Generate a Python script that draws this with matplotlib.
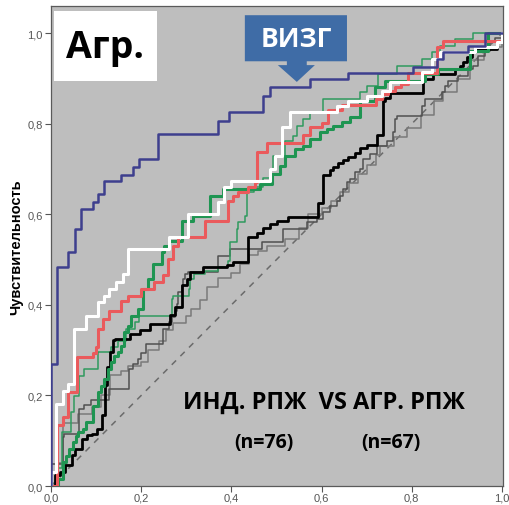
import matplotlib
matplotlib.use('Agg')
import matplotlib.pyplot as plt
from matplotlib.patches import Polygon, Rectangle
from matplotlib.ticker import FuncFormatter

# ROC-кривые: x - точка ступеньки (1-специфичность), y - чувствительность после ступеньки
vizg_x = [0, 0, 0.013, 0.038, 0.053, 0.067, 0.093, 0.104, 0.118, 0.155, 0.182, 0.195, 0.237, 0.370, 0.395,
          0.470, 0.486, 0.574, 0.659, 0.803, 0.856, 0.869, 0.925, 0.962, 1.0]
vizg_y = [0, 0.269, 0.483, 0.517, 0.567, 0.611, 0.627, 0.645, 0.673, 0.687, 0.704, 0.722, 0.777, 0.806, 0.826,
          0.861, 0.881, 0.898, 0.912, 0.925, 0.943, 0.958, 0.971, 1.0, 1.0]

white_x = [0, 0, 0.011, 0.027, 0.038, 0.051, 0.078, 0.104, 0.118, 0.129, 0.144, 0.160, 0.171, 0.262, 0.304,
           0.370, 0.384, 0.399, 0.486, 0.497, 0.512, 0.530, 0.634, 0.659, 0.701, 0.734, 0.752, 0.823, 0.845,
           0.863, 0.940, 0.989, 1.0]
white_y = [0, 0.031, 0.181, 0.210, 0.225, 0.347, 0.375, 0.406, 0.419, 0.435, 0.450, 0.468, 0.523, 0.550, 0.600,
           0.627, 0.660, 0.673, 0.700, 0.728, 0.792, 0.826, 0.839, 0.850, 0.861, 0.872, 0.892, 0.914, 0.943,
           0.958, 0.969, 0.980, 1.0]

red_x = [0, 0.013, 0.027, 0.038, 0.058, 0.093, 0.100, 0.104, 0.115, 0.129, 0.155, 0.171, 0.200, 0.228, 0.248,
         0.259, 0.270, 0.282, 0.341, 0.392, 0.404, 0.415, 0.437, 0.452, 0.457, 0.480, 0.558, 0.574, 0.601,
         0.614, 0.645, 0.720, 0.734, 0.748, 0.763, 0.776, 0.792, 0.855, 0.869, 1.0]
red_y = [0, 0.135, 0.152, 0.207, 0.285, 0.294, 0.307, 0.347, 0.369, 0.386, 0.408, 0.419, 0.435, 0.450, 0.466,
         0.501, 0.530, 0.550, 0.585, 0.629, 0.640, 0.649, 0.660, 0.671, 0.737, 0.757, 0.775, 0.793, 0.801,
         0.830, 0.841, 0.855, 0.865, 0.872, 0.881, 0.888, 0.912, 0.969, 0.982, 1.0]

green_x = [0.010, 0.016, 0.027, 0.033, 0.040, 0.049, 0.055, 0.060, 0.071, 0.078, 0.093, 0.104, 0.111, 0.118,
           0.126, 0.133, 0.140, 0.149, 0.155, 0.162, 0.171, 0.177, 0.193, 0.204, 0.215, 0.226, 0.246, 0.251,
           0.262, 0.290, 0.315, 0.353, 0.381, 0.463, 0.490, 0.508, 0.519, 0.541, 0.559, 0.574, 0.596, 0.612,
           0.625, 0.645, 0.663, 0.685, 0.718, 0.741, 0.830, 0.858, 0.930, 0.970, 1.0]
green_y = [0, 0.015, 0.053, 0.066, 0.082, 0.097, 0.110, 0.119, 0.126, 0.141, 0.177, 0.208, 0.221, 0.236,
           0.258, 0.274, 0.287, 0.296, 0.309, 0.340, 0.353, 0.375, 0.391, 0.435, 0.457, 0.490, 0.517, 0.530,
           0.541, 0.585, 0.596, 0.640, 0.656, 0.667, 0.689, 0.706, 0.728, 0.744, 0.751, 0.766, 0.781, 0.788,
           0.795, 0.804, 0.815, 0.850, 0.881, 0.894, 0.909, 0.920, 0.960, 1.0, 1.0]

tgreen_x = [0.005, 0.011, 0.024, 0.044, 0.051, 0.062, 0.073, 0.104, 0.133, 0.149, 0.166, 0.186, 0.195, 0.268,
            0.271, 0.306, 0.308, 0.317, 0.341, 0.370, 0.392, 0.397, 0.412, 0.415, 0.430, 0.435, 0.450, 0.470,
            0.486, 0.492, 0.519, 0.537, 0.545, 0.559, 0.574, 0.603, 0.685, 0.701, 0.725, 0.767, 0.823, 0.845,
            0.863, 0.896, 0.936, 1.0]
tgreen_y = [0, 0.040, 0.120, 0.163, 0.199, 0.243, 0.258, 0.296, 0.307, 0.320, 0.347, 0.362, 0.375, 0.413,
            0.419, 0.435, 0.457, 0.468, 0.475, 0.483, 0.497, 0.539, 0.567, 0.583, 0.596, 0.649, 0.660, 0.680,
            0.700, 0.728, 0.762, 0.773, 0.795, 0.810, 0.826, 0.854, 0.870, 0.883, 0.909, 0.927, 0.943, 0.958,
            0.971, 0.987, 1.0, 1.0]

black_x = [0, 0.009, 0.020, 0.031, 0.047, 0.053, 0.069, 0.080, 0.091, 0.102, 0.113, 0.120, 0.124, 0.131, 0.137,
           0.142, 0.175, 0.197, 0.220, 0.264, 0.275, 0.290, 0.302, 0.308, 0.337, 0.390, 0.404, 0.437, 0.457,
           0.470, 0.486, 0.501, 0.525, 0.592, 0.603, 0.618, 0.625, 0.636, 0.647, 0.658, 0.674, 0.685, 0.701,
           0.723, 0.736, 0.741, 0.752, 0.825, 0.846, 0.895, 0.906, 0.914, 0.922, 0.933, 0.940, 0.990, 1.0]
black_y = [0, 0.024, 0.031, 0.046, 0.068, 0.082, 0.104, 0.113, 0.115, 0.126, 0.157, 0.223, 0.263, 0.296, 0.322,
           0.325, 0.336, 0.344, 0.358, 0.378, 0.395, 0.444, 0.457, 0.472, 0.483, 0.488, 0.494, 0.550, 0.558,
           0.569, 0.578, 0.585, 0.594, 0.625, 0.687, 0.698, 0.704, 0.713, 0.719, 0.726, 0.735, 0.746, 0.753,
           0.775, 0.850, 0.857, 0.868, 0.898, 0.909, 0.920, 0.927, 0.936, 0.947, 0.958, 0.965, 0.980, 1.0]

gray1_x = [0, 0, 0.027, 0.029, 0.062, 0.073, 0.089, 0.129, 0.173, 0.182, 0.193, 0.200, 0.211, 0.248, 0.262,
           0.268, 0.275, 0.279, 0.282, 0.290, 0.293, 0.297, 0.303, 0.370, 0.397, 0.468, 0.514, 0.568, 0.590,
           0.603, 0.619, 0.634, 0.641, 0.647, 0.656, 0.663, 0.674, 0.685, 0.692, 0.707, 0.723, 0.745, 0.758,
           0.763, 0.767, 0.823, 0.829, 0.867, 0.874, 0.880, 0.902, 0.925, 0.936, 0.947, 0.962, 0.973, 0.985, 1.0]
gray1_y = [0, 0.049, 0.108, 0.115, 0.170, 0.180, 0.190, 0.214, 0.258, 0.269, 0.280, 0.294, 0.313, 0.347, 0.362,
           0.373, 0.386, 0.402, 0.428, 0.441, 0.457, 0.468, 0.472, 0.508, 0.523, 0.539, 0.567, 0.583, 0.589,
           0.605, 0.618, 0.629, 0.640, 0.656, 0.671, 0.678, 0.693, 0.700, 0.722, 0.733, 0.751, 0.762, 0.781,
           0.810, 0.817, 0.839, 0.854, 0.870, 0.883, 0.894, 0.905, 0.921, 0.927, 0.949, 0.960, 0.982, 0.990, 1.0]

gray2_x = [0.005, 0.013, 0.027, 0.060, 0.090, 0.110, 0.130, 0.155, 0.170, 0.200, 0.215, 0.240, 0.255, 0.270,
           0.300, 0.310, 0.330, 0.345, 0.370, 0.400, 0.420, 0.440, 0.460, 0.480, 0.520, 0.550, 0.570, 0.600,
           0.620, 0.640, 0.660, 0.680, 0.700, 0.720, 0.730, 0.760, 0.790, 0.820, 0.850, 0.870, 0.900, 0.930,
           0.960, 1.0]
gray2_y = [0, 0.050, 0.140, 0.160, 0.175, 0.200, 0.245, 0.255, 0.265, 0.275, 0.300, 0.320, 0.345, 0.360,
           0.375, 0.390, 0.410, 0.440, 0.460, 0.470, 0.490, 0.510, 0.520, 0.530, 0.545, 0.570, 0.600, 0.615,
           0.630, 0.650, 0.670, 0.690, 0.710, 0.730, 0.750, 0.770, 0.790, 0.820, 0.850, 0.870, 0.900, 0.940,
           0.970, 1.0]

ticks = [0.0, 0.2, 0.4, 0.6, 0.8, 1.0]

fig = plt.figure(figsize=(5.1, 5.06), dpi=100)
ax = fig.add_axes([0.1, 0.0375, 0.886, 0.9485])
ax.set_facecolor('#bebebe')

ax.plot([0, 1], [0, 1], color='#6b6b6b', lw=1.1, ls=(0, (4, 4)), zorder=2)
ax.step(gray2_x, gray2_y, where='post', color='#7a7a7a', lw=1.1, zorder=3)
ax.step(gray1_x, gray1_y, where='post', color='#505050', lw=1.1, zorder=3)
ax.step(tgreen_x, tgreen_y, where='post', color='#2f9a5e', lw=1.1, zorder=4)
ax.step(black_x, black_y, where='post', color='black', lw=2.0, zorder=5)
ax.step(green_x, green_y, where='post', color='#1f9552', lw=2.2, zorder=6)
ax.step(red_x, red_y, where='post', color='#ea5a5c', lw=2.2, zorder=7)
ax.step(white_x, white_y, where='post', color='white', lw=2.2, zorder=8)
ax.step(vizg_x, vizg_y, where='post', color='#3e3f8e', lw=1.8, zorder=9)

ax.set_xlim(0, 1.002)
ax.set_ylim(0, 1.06)
ax.set_xticks(ticks)
ax.set_yticks(ticks)
fmt = FuncFormatter(lambda v, p: ('%.1f' % v).replace('.', ','))
ax.xaxis.set_major_formatter(fmt)
ax.yaxis.set_major_formatter(fmt)
ax.tick_params(direction='out', length=4, width=0.8, color='#555555', labelsize=8,
               labelcolor='#555555', pad=2)
ax.tick_params(axis='x', pad=1)
for lab in ax.get_xticklabels() + ax.get_yticklabels():
    lab.set_family('Liberation Sans')
for s in ax.spines.values():
    s.set_color('#5a5a5a')
    s.set_linewidth(0.9)

ax.set_ylabel('Чувствительность', fontsize=10.5, fontweight='bold', family='Liberation Sans', labelpad=3)

# подпись "Агр." в белой рамке
ax.add_patch(Rectangle((0.0066, 0.844), 0.228, 0.146, transform=ax.transAxes, facecolor='white',
                       edgecolor='none', zorder=10))
ax.text(0.12, 0.915, 'Агр.', transform=ax.transAxes, ha='center', va='center', fontsize=27,
        fontweight='bold', family='Open Sans', zorder=11)

# выноска ВИЗГ со стрелкой вниз
callout = [(0.429, 0.981), (0.655, 0.981), (0.655, 0.885), (0.566, 0.885), (0.566, 0.877),
           (0.584, 0.877), (0.544, 0.842), (0.502, 0.877), (0.522, 0.877), (0.522, 0.885), (0.429, 0.885)]
ax.add_patch(Polygon(callout, closed=True, transform=ax.transAxes, facecolor='#3f6ca6',
                     edgecolor='none', zorder=10))
ax.text(0.542, 0.933, 'ВИЗГ', transform=ax.transAxes, ha='center', va='center', fontsize=19,
        fontweight='bold', family='Open Sans', color='white', zorder=11)

ax.text(0.604, 0.175, 'ИНД. РПЖ  VS АГР. РПЖ', transform=ax.transAxes, ha='center', va='center',
        fontsize=17, fontweight='bold', family='Open Sans', zorder=11)
ax.text(0.471, 0.092, '(n=76)', transform=ax.transAxes, ha='center', va='center',
        fontsize=14, fontweight='bold', family='Open Sans', zorder=11)
ax.text(0.752, 0.092, '(n=67)', transform=ax.transAxes, ha='center', va='center',
        fontsize=14, fontweight='bold', family='Open Sans', zorder=11)

fig.savefig('out.png', dpi=100)
